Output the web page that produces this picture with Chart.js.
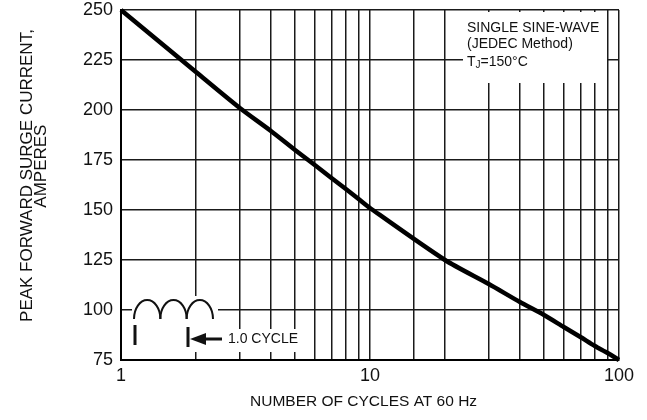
<!DOCTYPE html>
<html>
<head>
<meta charset="utf-8">
<script src="https://cdn.jsdelivr.net/npm/chart.js@4.4.1/dist/chart.umd.min.js"></script>
<style>
  html, body { margin: 0; padding: 0; background: #fff; }
  #surge { display: block; }
</style>
</head>
<body>
<canvas id="surge" width="647" height="420"></canvas>
<script>
// Data
const cycles = [1, 2, 3, 4, 5, 6, 7, 8, 9, 10, 20, 30, 40, 50, 60, 70, 80, 90, 100];
const surgeAmps = [250, 219, 201, 189.5, 180, 172.5, 166, 160.5, 155.5, 151, 125, 113, 104, 97.5, 91.5, 86.5, 82, 78.5, 75];
const xLabels = [1, 10, 100];
const yTicks = [75, 100, 125, 150, 175, 200, 225, 250];
const noteLines = ['SINGLE SINE-WAVE', '(JEDEC Method)'];

const FONT = 'Arial, "Liberation Sans", Helvetica, sans-serif';

// Draws the note box (top right) and the little sine-wave sketch (bottom left)
const notesPlugin = {
    id: 'notes',
    afterDraw(chart) {
        const ctx = chart.ctx;
        const a = chart.chartArea;
        ctx.save();

        // white patches over the grid
        ctx.fillStyle = '#fff';
        ctx.fillRect(a.left + 342, a.top + 2, 144, 71);
        ctx.fillRect(a.left + 11, a.bottom - 64, 86, 56);
        ctx.fillRect(a.left + 96, a.bottom - 31, 88, 23);

        // note text
        ctx.fillStyle = '#111';
        ctx.textBaseline = 'alphabetic';
        ctx.textAlign = 'left';
        ctx.font = '14px ' + FONT;
        let tx = a.left + 346;
        ctx.fillText(noteLines[0], tx, a.top + 22);
        ctx.fillText(noteLines[1], tx, a.top + 38);
        ctx.fillText('T', tx, a.top + 56);
        let w = ctx.measureText('T').width;
        ctx.font = '10px ' + FONT;
        ctx.fillText('J', tx + w, a.top + 58);
        w += ctx.measureText('J').width;
        ctx.font = '14px ' + FONT;
        ctx.fillText('=150°C', tx + w, a.top + 56);

        // sine humps
        ctx.strokeStyle = '#111';
        ctx.lineWidth = 2;
        const hx = a.left + 13, hy = a.bottom - 41;
        for (let i = 0; i < 3; i++) {
            ctx.beginPath();
            ctx.ellipse(hx + 13.2 + i * 26.3, hy, 13.2, 19, 0, Math.PI, 2 * Math.PI);
            ctx.stroke();
        }

        // markers and arrow
        ctx.lineWidth = 3;
        ctx.beginPath();
        ctx.moveTo(a.left + 14, a.bottom - 35);
        ctx.lineTo(a.left + 14, a.bottom - 15);
        ctx.moveTo(a.left + 67, a.bottom - 33);
        ctx.lineTo(a.left + 67, a.bottom - 13);
        ctx.moveTo(a.left + 82, a.bottom - 21);
        ctx.lineTo(a.left + 101, a.bottom - 21);
        ctx.stroke();
        ctx.beginPath();
        ctx.moveTo(a.left + 69, a.bottom - 21);
        ctx.lineTo(a.left + 85, a.bottom - 27);
        ctx.lineTo(a.left + 85, a.bottom - 15);
        ctx.closePath();
        ctx.fill();

        ctx.font = '14px ' + FONT;
        ctx.textBaseline = 'middle';
        ctx.fillText('1.0 CYCLE', a.left + 107, a.bottom - 21);
        ctx.restore();
    }
};

const ctx = document.getElementById('surge').getContext('2d');
new Chart(ctx, {
    type: 'line',
    data: {
        datasets: [{
            data: cycles.map((c, i) => ({ x: c, y: surgeAmps[i] })),
            borderColor: '#000',
            borderWidth: 4.5,
            pointRadius: 0,
            tension: 0.25,
            clip: 4
        }]
    },
    options: {
        responsive: false,
        animation: false,
        devicePixelRatio: 1,
        layout: { padding: { top: 10, right: 28, left: 0, bottom: 0 } },
        plugins: {
            legend: { display: false },
            tooltip: { enabled: false }
        },
        scales: {
            x: {
                type: 'logarithmic',
                min: 1,
                max: 100,
                afterFit: scale => { scale.height = 60; },
                grid: { color: '#1a1a1a', lineWidth: 1.5, drawTicks: false },
                border: { color: '#000', width: 2 },
                ticks: {
                    autoSkip: false,
                    maxRotation: 0,
                    padding: 7,
                    color: '#111',
                    font: { family: FONT, size: 18, lineHeight: 1 },
                    callback: v => xLabels.includes(v) ? String(v) : ''
                },
                title: {
                    display: true,
                    // trailing spaces nudge the centred title a little to the left, as in the original
                    text: 'NUMBER OF CYCLES AT 60 Hz   ',
                    color: '#111',
                    font: { family: FONT, size: 15.5 },
                    padding: { top: 0, bottom: 9 }
                }
            },
            y: {
                min: 75,
                max: 250,
                afterFit: scale => {
                    scale.width = 121;
                    scale.paddingTop = 0;
                    scale.paddingBottom = 0;
                },
                afterBuildTicks: scale => { scale.ticks = yTicks.map(v => ({ value: v })); },
                grid: { color: '#1a1a1a', lineWidth: 1.5, drawTicks: false },
                border: { color: '#000', width: 2 },
                ticks: {
                    padding: 8,
                    color: '#111',
                    font: { family: FONT, size: 18, lineHeight: 1 }
                },
                title: {
                    display: true,
                    // leading spaces push the lines upward like the datasheet
                    text: ['    PEAK FORWARD SURGE CURRENT,', '        AMPERES'],
                    color: '#111',
                    font: { family: FONT, size: 17, lineHeight: 0.8 },
                    padding: { top: 21, bottom: 0 }
                }
            }
        }
    },
    plugins: [notesPlugin]
});
</script>
</body>
</html>
